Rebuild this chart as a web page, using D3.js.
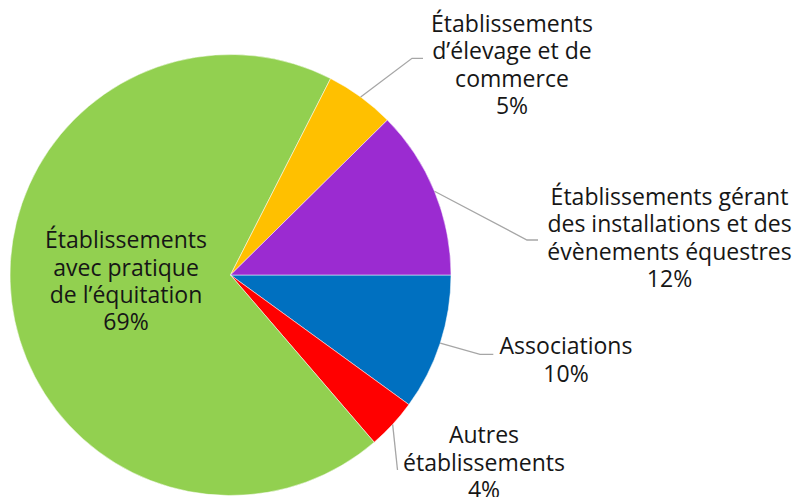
<!DOCTYPE html>
<html><head><meta charset="utf-8">
<script src="https://cdn.jsdelivr.net/npm/d3@7"></script>
<style>html,body{margin:0;padding:0;background:#fff;}svg{display:block;}</style>
</head><body><svg id="c" width="796" height="497"></svg>
<script>
// Data
const categories = [
  "Associations",
  "Autres établissements",
  "Établissements avec pratique de l’équitation",
  "Établissements d’élevage et de commerce",
  "Établissements gérant des installations et des évènements équestres"
];
const values = [10.0, 3.7, 68.8, 5.1, 12.4];
const pctLabels = ["10%", "4%", "69%", "5%", "12%"];
const labelLines = [
  ["Associations"],
  ["Autres", "établissements"],
  ["Établissements", "avec pratique", "de l’équitation"],
  ["Établissements", "d’élevage et de", "commerce"],
  ["Établissements gérant", "des installations et des", "évènements équestres"]
];
const colors = ["#0070C0", "#FF0000", "#92D050", "#FFC000", "#9B2BD1"];

// Layout (annotation positions)
const layout = [
  {cx: 566, y0: 354.3, elbow: [480, 354.3], end: [493.3, 354.3]},
  {cx: 484, y0: 443.3, elbow: null, end: [397.5, 470]},
  {cx: 126, y0: 248.3, elbow: null, end: null},
  {cx: 512, y0: 32, elbow: [412, 58.3], end: [423, 58.3]},
  {cx: 669.5, y0: 205, elbow: [527, 240], end: [538, 240]}
];

const svg = d3.select("#c");
const cx = 230.5, cy = 275, r = 220.5;
const lineH = 27.3;
const fontFamily = "'Open Sans', 'Noto Sans', sans-serif";

const pie = d3.pie().sort(null).value(d => d)
  .startAngle(Math.PI / 2).endAngle(Math.PI / 2 + 2 * Math.PI);
const arcs = pie(values);
const arc = d3.arc().innerRadius(0).outerRadius(r);

const g = svg.append("g").attr("transform", `translate(${cx},${cy})`);
g.selectAll("path.slice").data(arcs).enter().append("path")
  .attr("class", "slice")
  .attr("d", arc)
  .attr("fill", (d, i) => colors[i])
  .attr("stroke", "#ffffff")
  .attr("stroke-width", 0.5);

// Leader lines
arcs.forEach((d, i) => {
  const L = layout[i];
  if (!L.end) return;
  const a = (d.startAngle + d.endAngle) / 2;
  const p0 = [cx + r * Math.sin(a), cy - r * Math.cos(a)];
  const pts = [p0];
  if (L.elbow) pts.push(L.elbow);
  pts.push(L.end);
  svg.append("path")
    .attr("d", d3.line()(pts))
    .attr("fill", "none")
    .attr("stroke", "#A6A6A6")
    .attr("stroke-width", 1.3);
});

// Font-size calibration so "Établissements" is ~162px wide
const probe = svg.append("text").attr("font-family", fontFamily).attr("font-size", 20).text("Établissements");
const w = probe.node().getComputedTextLength();
probe.remove();
const fs = 20 * 162 / w;

arcs.forEach((d, i) => {
  const L = layout[i];
  const lines = labelLines[i].concat([pctLabels[i]]);
  const t = svg.append("text")
    .attr("font-family", fontFamily)
    .attr("font-size", fs)
    .attr("fill", "#161616")
    .attr("text-anchor", "middle");
  lines.forEach((s, k) => {
    t.append("tspan").attr("x", L.cx).attr("y", L.y0 + k * lineH).text(s);
  });
});
</script>
</body></html>
